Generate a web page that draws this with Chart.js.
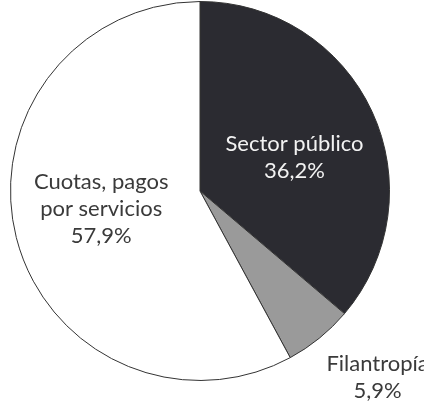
<!DOCTYPE html>
<html>
<head>
<meta charset="utf-8">
<script src="https://cdn.jsdelivr.net/npm/chart.js@4"></script>
<style>
  html, body { margin: 0; padding: 0; background: #fff; }
  #wrap { width: 424px; height: 404px; }
</style>
</head>
<body>
<div id="wrap"><canvas id="pie"></canvas></div>
<script>
// Fuentes de financiamiento (%)
const labels = ["Sector público", "Filantropía", "Cuotas, pagos por servicios"];
const labelLines = [["Sector público"], ["Filantropía"], ["Cuotas, pagos", "por servicios"]];
const values = [36.2, 5.9, 57.9];
const colors = ["#2b2b31", "#9a9a9a", "#ffffff"];

// ubicacion de etiquetas: fraccion del radio + desplazamiento angular (grados)
const LABEL_POS = [
  { r: 0.53, da: 5, color: "#f2f2f2" },
  { r: 1.36, da: -4.5, color: "#3a3a3a" },
  { r: 0.53, da: 4, color: "#3a3a3a" }
];
const FONT = "22px Lato, 'Open Sans', sans-serif";
const LINE_H = 27;

const fmt = v => v.toFixed(1).replace(".", ",") + "%";

const labelPlugin = {
  id: "pieLabels",
  afterDatasetsDraw(chart) {
    const ctx = chart.ctx;
    const meta = chart.getDatasetMeta(0);
    ctx.save();
    ctx.font = FONT;
    ctx.textAlign = "center";
    ctx.textBaseline = "middle";
    meta.data.forEach((arc, i) => {
      const { x, y, startAngle, endAngle, outerRadius } = arc.getProps(
        ["x", "y", "startAngle", "endAngle", "outerRadius"], true);
      const pos = LABEL_POS[i];
      const mid = (startAngle + endAngle) / 2 + pos.da * Math.PI / 180;
      const cx = x + Math.cos(mid) * outerRadius * pos.r;
      const cy = y + Math.sin(mid) * outerRadius * pos.r;
      const lines = [...labelLines[i], fmt(values[i])];
      const top = cy - (lines.length - 1) * LINE_H / 2;
      ctx.fillStyle = pos.color;
      lines.forEach((t, k) => ctx.fillText(t, cx, top + k * LINE_H));
    });
    ctx.restore();
  }
};

new Chart(document.getElementById("pie"), {
  type: "pie",
  data: {
    labels,
    datasets: [{
      data: values,
      backgroundColor: colors,
      borderColor: "#333333",
      borderWidth: 1
    }]
  },
  options: {
    responsive: true,
    maintainAspectRatio: false,
    animation: false,
    layout: { padding: { left: 10, right: 34, top: 1, bottom: 23 } },
    plugins: { legend: { display: false }, tooltip: { enabled: false } }
  },
  plugins: [labelPlugin]
});
</script>
</body>
</html>
